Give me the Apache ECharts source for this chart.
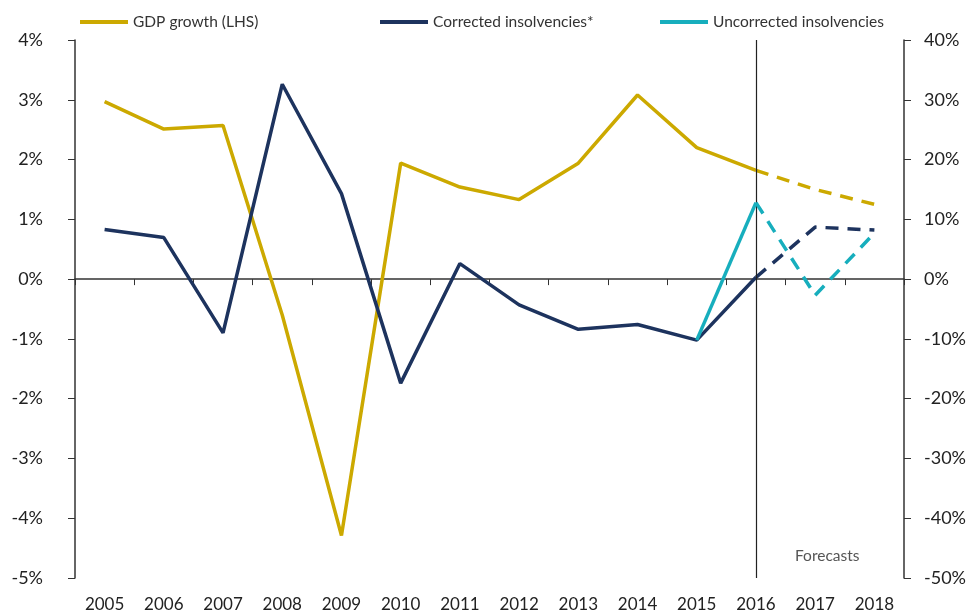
<!DOCTYPE html>
<html>
<head>
<meta charset="utf-8">
<script src="https://cdn.jsdelivr.net/npm/echarts@6/dist/echarts.min.js"></script>
<style>
  html, body { margin: 0; padding: 0; background: #fff; }
  #main { width: 971px; height: 613px; }
</style>
</head>
<body>
<div id="main"></div>
<script>
// years on the x axis
const years = ['2005', '2006', '2007', '2008', '2009', '2010', '2011', '2012', '2013', '2014', '2015', '2016', '2017', '2018'];

// GDP growth, % (left axis)
const gdpActual   = [2.97, 2.51, 2.57, -0.6, -4.29, 1.94, 1.54, 1.33, 1.94, 3.08, 2.2, 1.82, null, null];
const gdpForecast = [null, null, null, null, null, null, null, null, null, null, null, 1.82, 1.5, 1.25];

// corrected insolvencies, % change (right axis)
const corrActual   = [8.3, 6.95, -9.0, 32.6, 14.3, -17.4, 2.6, -4.3, -8.4, -7.6, -10.2, 0.3, null, null];
const corrForecast = [null, null, null, null, null, null, null, null, null, null, null, 0.3, 8.7, 8.2];

// uncorrected insolvencies, % change (right axis)
const uncorrActual   = [null, null, null, null, null, null, null, null, null, null, -10.2, 12.8, null, null];
const uncorrForecast = [null, null, null, null, null, null, null, null, null, null, null, 12.8, -2.7, 7.7];

const leftTicks = { min: -5, max: 4, interval: 1 };
const rightTicks = { min: -50, max: 40, interval: 10 };

const GOLD = '#cca900';
const NAVY = '#1d335e';
const TEAL = '#17aebd';
const FONT = 'Lato';

const chart = echarts.init(document.getElementById('main'));

const legendBase = {
  top: 9,
  icon: 'rect',
  itemWidth: 48,
  itemHeight: 4,
  itemGap: 3,
  selectedMode: false,
  textStyle: { fontFamily: FONT, fontSize: 15.5, color: '#333' }
};

const lineSeries = (name, data, color, axis, dashed, z) => ({
  name,
  type: 'line',
  yAxisIndex: axis,
  data,
  symbol: 'none',
  connectNulls: false,
  z,
  lineStyle: { color, width: 3.5, type: dashed ? [13, 9] : 'solid', cap: 'butt' },
  itemStyle: { color }
});

const option = {
  animation: false,
  backgroundColor: '#fff',
  legend: [
    Object.assign({}, legendBase, { left: 75, data: ['GDP growth (LHS)'] }),
    Object.assign({}, legendBase, { left: 375, data: ['Corrected insolvencies*'] }),
    Object.assign({}, legendBase, { left: 655, data: ['Uncorrected insolvencies'] })
  ],
  grid: { left: 75, right: 67, top: 40, bottom: 35, containLabel: false },
  xAxis: [
    {
      type: 'category',
      data: years,
      boundaryGap: true,
      position: 'bottom',
      axisLine: { onZero: true, lineStyle: { color: '#333', width: 1.5 } },
      axisTick: { show: true, length: 6, lineStyle: { color: '#333' } },
      axisLabel: { show: false },
      splitLine: { show: false }
    },
    {
      type: 'category',
      data: years,
      boundaryGap: true,
      position: 'bottom',
      axisLine: { show: false, onZero: false },
      axisTick: { show: false },
      axisLabel: { margin: 18, fontFamily: FONT, fontSize: 17, color: '#222' },
      splitLine: { show: false }
    }
  ],
  yAxis: [
    {
      type: 'value',
      min: leftTicks.min,
      max: leftTicks.max,
      interval: leftTicks.interval,
      position: 'left',
      axisLine: { show: true, lineStyle: { color: '#333', width: 1.5 } },
      axisTick: { show: true, length: 7, lineStyle: { color: '#333' } },
      axisLabel: { formatter: '{value}%', margin: 32, fontFamily: FONT, fontSize: 18, color: '#222' },
      splitLine: { show: false }
    },
    {
      type: 'value',
      min: rightTicks.min,
      max: rightTicks.max,
      interval: rightTicks.interval,
      position: 'right',
      axisLine: { show: true, lineStyle: { color: '#333', width: 1.5 } },
      axisTick: { show: true, length: 7, lineStyle: { color: '#333' } },
      axisLabel: { formatter: '{value}%', margin: 20, fontFamily: FONT, fontSize: 18, color: '#222' },
      splitLine: { show: false }
    }
  ],
  graphic: [
    {
      type: 'text',
      left: 795,
      top: 548,
      style: { text: 'Forecasts', fontFamily: FONT, fontSize: 15.5, fill: '#555' }
    }
  ],
  series: [
    Object.assign(lineSeries('GDP growth (LHS)', gdpActual, GOLD, 0, false, 3), {
      markLine: {
        silent: true,
        symbol: 'none',
        label: { show: false },
        lineStyle: { color: '#222', width: 1.2, type: 'solid' },
        data: [{ xAxis: '2016' }]
      }
    }),
    lineSeries('GDP growth (LHS)', gdpForecast, GOLD, 0, true, 3),
    lineSeries('Corrected insolvencies*', corrActual, NAVY, 1, false, 4),
    lineSeries('Corrected insolvencies*', corrForecast, NAVY, 1, true, 4),
    lineSeries('Uncorrected insolvencies', uncorrActual, TEAL, 1, false, 5),
    lineSeries('Uncorrected insolvencies', uncorrForecast, TEAL, 1, true, 5)
  ]
};

chart.setOption(option);
</script>
</body>
</html>
